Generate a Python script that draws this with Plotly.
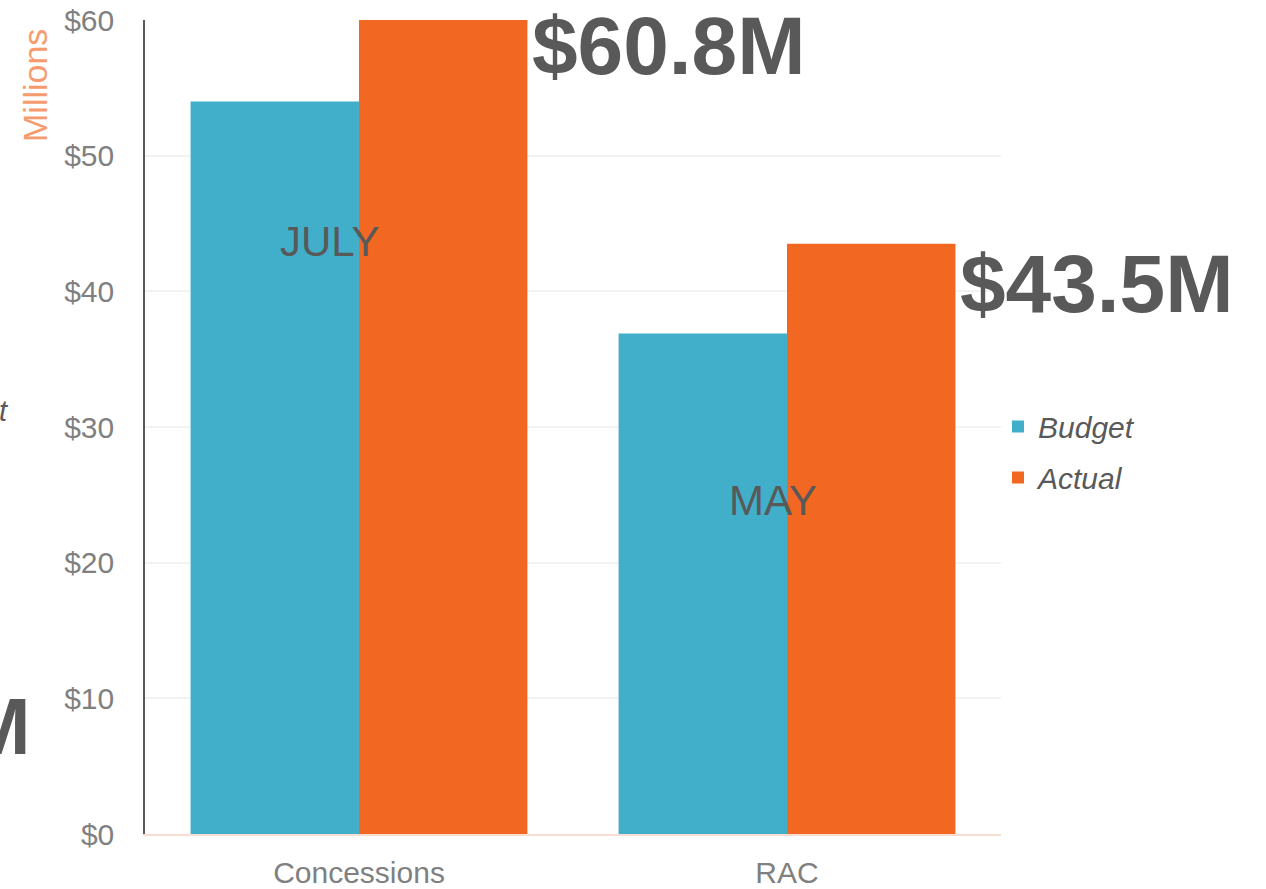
import plotly.graph_objects as go

categories = ["Concessions", "RAC"]
budget = [54.0, 36.9]
actual = [60.8, 43.5]
tick_vals = [0, 10, 20, 30, 40, 50, 60]
tick_text = ["$0", "$10", "$20", "$30", "$40", "$50", "$60"]
month_labels = ["JULY", "MAY"]
month_y = [43.7, 24.6]
big_labels = ["$60.8M", "$43.5M"]

W, H = 1266, 889
L, R, T, B = 145, 265, 20, 55
PW = W - L - R
PH = H - T - B
YMAX = 60
BARGAP = 0.213

def px(x):
    return (x - L) / PW

def py(y):
    return (T + PH - y) / PH

fig = go.Figure()
fig.add_trace(go.Bar(name="Budget", x=categories, y=budget, marker_color="#41AFCA",
                     marker_line_width=0, legendgroup="b"))
fig.add_trace(go.Bar(name="Actual", x=categories, y=actual, marker_color="#F26722",
                     marker_line_width=0, legendgroup="a"))

font = "Liberation Sans, Arial, sans-serif"
ann = []
# month labels
ann.append(dict(x=0, y=month_y[0], xref="x", yref="y", text=month_labels[0], showarrow=False,
                font=dict(size=42, color="#595959", family=font), xshift=-29))
ann.append(dict(x=1, y=month_y[1], xref="x", yref="y", text=month_labels[1], showarrow=False,
                font=dict(size=42, color="#595959", family=font), xshift=-14))
# big value labels next to actual bars
shifts = [-25, -40]
for i, (lab, v) in enumerate(zip(big_labels, actual)):
    ann.append(dict(x=i + (1 - BARGAP) / 2, y=min(v, YMAX), xref="x", yref="y",
                    text="<b>" + lab + "</b>", showarrow=False,
                    xanchor="left", yanchor="middle", xshift=3, yshift=shifts[i],
                    font=dict(size=82, color="#595959", family=font)))
# axis title
ann.append(dict(x=px(35), y=py(86), xref="paper", yref="paper", text="Millions",
                showarrow=False, textangle=-90, xanchor="center", yanchor="middle",
                font=dict(size=34, color="#F79B6E", family=font)))
# fragments at left edge
ann.append(dict(x=px(33), y=py(726), xref="paper", yref="paper", text="<b>M</b>",
                showarrow=False, xanchor="right", yanchor="middle",
                font=dict(size=80, color="#595959", family=font)))
ann.append(dict(x=px(11), y=py(411), xref="paper", yref="paper", text="<i>t</i>",
                showarrow=False, xanchor="right", yanchor="middle",
                font=dict(size=29, color="#595959", family=font)))

fig.update_layout(
    width=W, height=H,
    margin=dict(l=L, r=R, t=T, b=B, pad=0, autoexpand=False),
    paper_bgcolor="white", plot_bgcolor="white",
    barmode="group", bargap=BARGAP, bargroupgap=0,
    font=dict(family=font, color="#808080"),
    legend=dict(x=px(998), y=py(452), xanchor="left", yanchor="middle",
                font=dict(size=30, color="#595959", family=font, style="italic"),
                itemwidth=30, tracegroupgap=9, bgcolor="rgba(0,0,0,0)"),
    annotations=ann,
    showlegend=True,
)
fig.update_xaxes(range=[-0.5, 1.5], showline=True, linecolor="#F8DDD3", linewidth=2, ticks="",
                 tickfont=dict(size=30, color="#808080"), showgrid=False,
                 ticklabelstandoff=11, automargin=False)
fig.update_yaxes(range=[0, YMAX], tickvals=tick_vals, ticktext=tick_text, showline=True,
                 linecolor="#595959", linewidth=1.5, gridcolor="#F2F2F2", gridwidth=2,
                 tickfont=dict(size=30, color="#808080"), ticks="", ticklabelstandoff=23,
                 zeroline=False, automargin=False)

fig.write_html("out.html", config={"displayModeBar": False},
               post_script="document.body.style.margin='0';")
